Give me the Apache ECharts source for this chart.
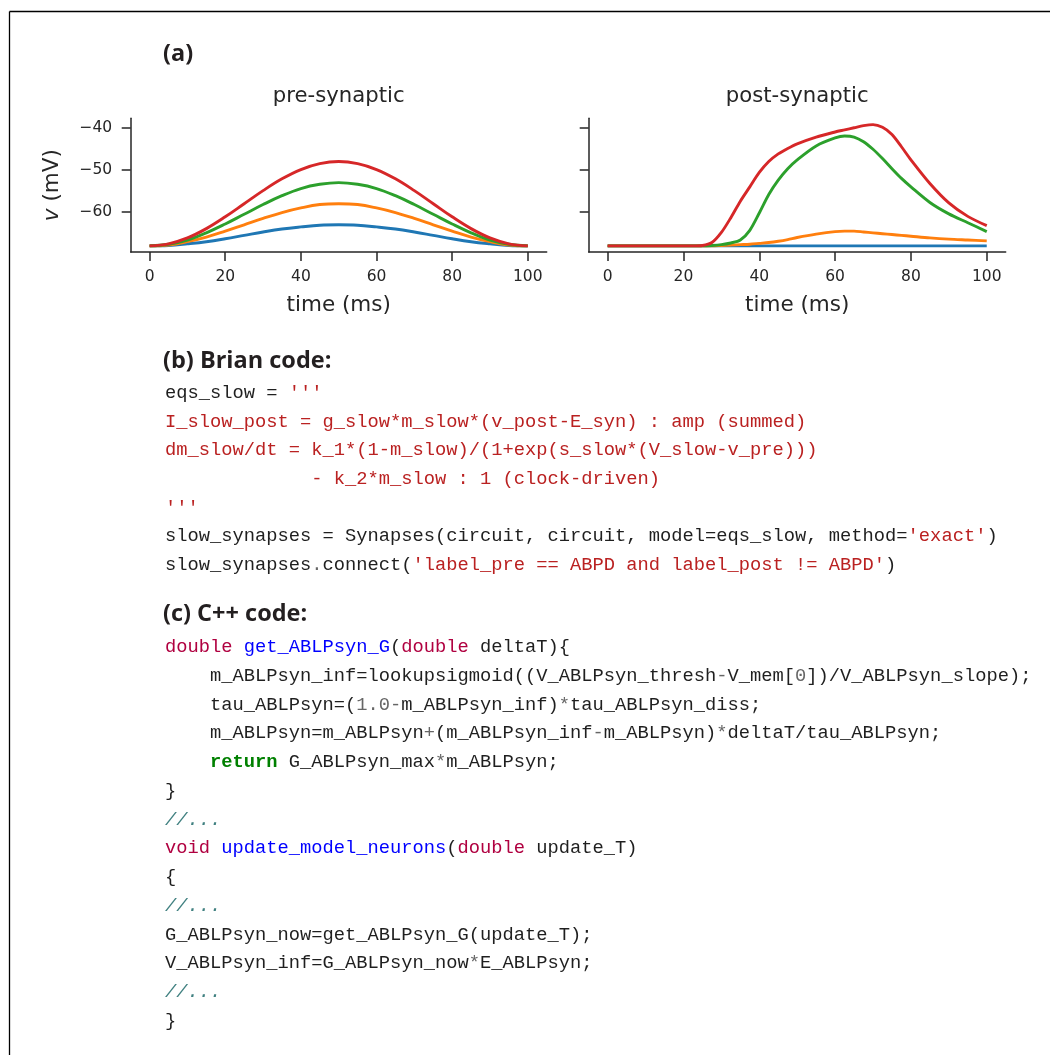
<!DOCTYPE html>
<html>
<head>
<meta charset="utf-8">
<script src="https://cdn.jsdelivr.net/npm/echarts@6/dist/echarts.min.js"></script>
<style>
  html, body { margin: 0; padding: 0; background: #ffffff; }
  #chart { width: 1050px; height: 1055px; }
</style>
</head>
<body>
<div id="chart"></div>
<script>
// ---- data: membrane potential traces (mV) ----
const preTime = [0, 5, 10, 15, 20, 25, 30, 35, 40, 45, 50, 55, 60, 65, 70, 75, 80, 85, 90, 95, 100];
const preBlue   = [-68, -67.9, -67.5, -67.0, -66.3, -65.5, -64.7, -64.0, -63.5, -63.1, -63, -63.1, -63.5, -64.0, -64.7, -65.5, -66.3, -67.0, -67.5, -67.9, -68];
const preOrange = [-68, -67.8, -67.0, -65.9, -64.5, -63, -61.5, -60.1, -59.0, -58.2, -58, -58.2, -59.0, -60.1, -61.5, -63, -64.5, -65.9, -67.0, -67.8, -68];
const preGreen  = [-68, -67.6, -66.6, -64.9, -62.8, -60.5, -58.2, -56.1, -54.4, -53.4, -53, -53.4, -54.4, -56.1, -58.2, -60.5, -62.8, -64.9, -66.6, -67.6, -68];
const preRed    = [-68, -67.5, -66.1, -63.9, -61.1, -58, -54.9, -52.1, -49.9, -48.5, -48, -48.5, -49.9, -52.1, -54.9, -58, -61.1, -63.9, -66.1, -67.5, -68];

const postTime   = [0, 5, 10, 15, 20, 22.5, 25, 27.5, 30, 32.5, 35, 37.5, 40, 42.5, 45, 47.5, 50, 55, 60, 62.5, 65, 67.5, 70, 72.5, 75, 77.5, 80, 85, 90, 95, 100];
const postBlue   = [-68, -68, -68, -68, -68, -68, -68, -68, -68, -68, -68, -68, -68, -68, -68, -68, -68, -68, -68, -68, -68, -68, -68, -68, -68, -68, -68, -68, -68, -68, -68];
const postOrange = [-68, -68, -68, -68, -68, -68, -68, -68, -67.9, -67.8, -67.7, -67.6, -67.4, -67.2, -66.9, -66.5, -66.0, -65.2, -64.6, -64.5, -64.5, -64.7, -64.9, -65.1, -65.3, -65.5, -65.7, -66.1, -66.4, -66.6, -66.8];
const postGreen  = [-68, -68, -68, -68, -68, -68, -68, -67.9, -67.7, -67.3, -66.6, -64.3, -60.2, -55.8, -52.4, -49.7, -47.6, -44.3, -42.4, -41.95, -42.2, -43.3, -45.1, -47.3, -49.7, -52.0, -54.0, -57.7, -60.4, -62.5, -64.6];
const postRed    = [-68, -68, -68, -68, -68, -68, -67.9, -67.2, -64.8, -61.3, -57.4, -54.0, -50.6, -48.0, -46.2, -44.9, -43.8, -42.2, -41.0, -40.5, -40.0, -39.5, -39.25, -39.9, -41.6, -44.5, -47.6, -53.2, -57.8, -61.0, -63.2];

const timeTicks = [0, 20, 40, 60, 80, 100];
const voltTicks = [-60, -50, -40];
const traceColors = ['#1f77b4', '#ff7f0e', '#2ca02c', '#d62728'];
const panelTitles = ['pre-synaptic', 'post-synaptic'];
const panelHeadings = ['(a)', '(b) Brian code:', '(c) C++ code:'];

// ---- code listings, as [token kind, text] pairs per line ----
const brianCode = [
  [['t', 'eqs_slow = '], ['s', "'''"]],
  [['s', 'I_slow_post = g_slow*m_slow*(v_post-E_syn) : amp (summed)']],
  [['s', 'dm_slow/dt = k_1*(1-m_slow)/(1+exp(s_slow*(V_slow-v_pre)))']],
  [['s', '             - k_2*m_slow : 1 (clock-driven)']],
  [['s', "'''"]],
  [['t', 'slow_synapses = Synapses(circuit, circuit, model=eqs_slow, method='], ['s', "'exact'"], ['t', ')']],
  [['t', 'slow_synapses'], ['o', '.'], ['t', 'connect('], ['s', "'label_pre == ABPD and label_post != ABPD'"], ['t', ')']]
];
const cppCode = [
  [['kt', 'double'], ['t', ' '], ['nf', 'get_ABLPsyn_G'], ['t', '('], ['kt', 'double'], ['t', ' deltaT){']],
  [['t', '    m_ABLPsyn_inf=lookupsigmoid((V_ABLPsyn_thresh'], ['o', '-'], ['t', 'V_mem['], ['m', '0'], ['t', '])/V_ABLPsyn_slope);']],
  [['t', '    tau_ABLPsyn=('], ['m', '1.0'], ['o', '-'], ['t', 'm_ABLPsyn_inf)'], ['o', '*'], ['t', 'tau_ABLPsyn_diss;']],
  [['t', '    m_ABLPsyn=m_ABLPsyn'], ['o', '+'], ['t', '(m_ABLPsyn_inf'], ['o', '-'], ['t', 'm_ABLPsyn)'], ['o', '*'], ['t', 'deltaT/tau_ABLPsyn;']],
  [['t', '    '], ['k', 'return'], ['t', ' G_ABLPsyn_max'], ['o', '*'], ['t', 'm_ABLPsyn;']],
  [['t', '}']],
  [['c', '//...']],
  [['kt', 'void'], ['t', ' '], ['nf', 'update_model_neurons'], ['t', '('], ['kt', 'double'], ['t', ' update_T)']],
  [['t', '{']],
  [['c', '//...']],
  [['t', 'G_ABLPsyn_now=get_ABLPsyn_G(update_T);']],
  [['t', 'V_ABLPsyn_inf=G_ABLPsyn_now'], ['o', '*'], ['t', 'E_ABLPsyn;']],
  [['c', '//...']],
  [['t', '}']]
];

// ---- styling ----
const INK = '#262626';
const SANS = '"DejaVu Sans", sans-serif';
const MONO = '"Liberation Mono", monospace';
const HEAD = '"Open Sans", sans-serif';
const CODE_SIZE = 18.75;

const tokenStyles = {
  o:  { fill: '#666666' },
  s:  { fill: '#ba2121' },
  kt: { fill: '#b00040' },
  nf: { fill: '#0000ff' },
  k:  { fill: '#008000', fontWeight: 'bold' },
  m:  { fill: '#666666' },
  c:  { fill: '#408080', fontStyle: 'italic' }
};
const rich = {};
Object.keys(tokenStyles).forEach(function (key) {
  rich[key] = Object.assign({ fontFamily: MONO, fontSize: CODE_SIZE }, tokenStyles[key]);
});

function richLine(tokens) {
  return tokens.map(function (tk) {
    return tk[0] === 't' ? tk[1] : '{' + tk[0] + '|' + tk[1] + '}';
  }).join('');
}

function pairs(times, vals) {
  return times.map(function (t, i) { return [t, vals[i]]; });
}

const grids = [
  { left: 130.7, top: 118.3, width: 416, height: 133.7 },
  { left: 588.7, top: 118.3, width: 417, height: 133.7 }
];

function xAxisFor(i) {
  return {
    type: 'value', gridIndex: i, min: -5, max: 105,
    name: 'time (ms)', nameLocation: 'middle', nameGap: 42,
    nameTextStyle: { fontFamily: SANS, fontSize: 21.5, color: INK },
    axisLine: { show: true, onZero: false, lineStyle: { color: INK, width: 1.5 } },
    axisTick: { show: true, length: 9, customValues: timeTicks, lineStyle: { color: INK, width: 1.5 } },
    axisLabel: { show: true, customValues: timeTicks, margin: 17, fontFamily: SANS, fontSize: 15.5, color: INK },
    splitLine: { show: false }
  };
}

function yAxisFor(i) {
  const ax = {
    type: 'value', gridIndex: i, min: -69.44, max: -37.76,
    axisLine: { show: true, onZero: false, lineStyle: { color: INK, width: 1.5 } },
    axisTick: { show: true, length: 9, customValues: voltTicks, lineStyle: { color: INK, width: 1.5 } },
    axisLabel: {
      show: i === 0, customValues: voltTicks, margin: 18.5,
      fontFamily: SANS, fontSize: 15.5, color: INK,
      formatter: function (v) { return String(v).replace('-', '\u2212'); }
    },
    splitLine: { show: false }
  };
  if (i === 0) {
    ax.name = '{i|v} (mV)';
    ax.nameLocation = 'middle';
    ax.nameRotate = 90;
    ax.nameGap = 67;
    ax.nameTextStyle = {
      fontFamily: SANS, fontSize: 21.5, color: INK,
      rich: { i: { fontFamily: SANS, fontSize: 21.5, color: INK, fontStyle: 'italic' } }
    };
  }
  return ax;
}

function trace(panel, times, vals, color, smooth) {
  return {
    type: 'line', xAxisIndex: panel, yAxisIndex: panel,
    data: pairs(times, vals), showSymbol: false, smooth: smooth,
    lineStyle: { color: color, width: 2.9 }, silent: true
  };
}

const series = [
  trace(0, preTime, preBlue, traceColors[0], 0.4),
  trace(0, preTime, preOrange, traceColors[1], 0.4),
  trace(0, preTime, preGreen, traceColors[2], 0.4),
  trace(0, preTime, preRed, traceColors[3], 0.4),
  trace(1, postTime, postBlue, traceColors[0], 0.3),
  trace(1, postTime, postOrange, traceColors[1], 0.3),
  trace(1, postTime, postGreen, traceColors[2], 0.3),
  trace(1, postTime, postRed, traceColors[3], 0.3)
];

// ---- text and frame drawn as graphic elements ----
const graphic = [
  { type: 'line', shape: { x1: 9.5, y1: 11.5, x2: 1050, y2: 11.5 }, style: { stroke: '#000', lineWidth: 1.3 } },
  { type: 'line', shape: { x1: 9.5, y1: 11.5, x2: 9.5, y2: 1055 }, style: { stroke: '#000', lineWidth: 1.3 } }
];

const headingPos = [[163, 54], [163, 361], [163, 614]];
panelHeadings.forEach(function (txt, i) {
  graphic.push({
    type: 'text', x: headingPos[i][0], y: headingPos[i][1],
    style: { text: txt, fontFamily: HEAD, fontWeight: 'bold', fontSize: 23.5, fill: '#231f20', align: 'left', verticalAlign: 'middle' }
  });
});

panelTitles.forEach(function (txt, i) {
  graphic.push({
    type: 'text', x: grids[i].left + grids[i].width / 2, y: 96,
    style: { text: txt, fontFamily: SANS, fontSize: 21.2, fill: INK, align: 'center', verticalAlign: 'middle' }
  });
});

function pushCode(lines, x0, y0, step) {
  lines.forEach(function (tokens, i) {
    graphic.push({
      type: 'text', x: x0, y: y0 + i * step,
      style: {
        text: richLine(tokens), rich: rich,
        fontFamily: MONO, fontSize: CODE_SIZE, fill: '#1f1f1f',
        align: 'left', verticalAlign: 'middle'
      }
    });
  });
}
pushCode(brianCode, 165, 393, 28.67);
pushCode(cppCode, 165, 647, 28.77);

const chart = echarts.init(document.getElementById('chart'), null, { renderer: 'canvas' });
chart.setOption({
  animation: false,
  backgroundColor: '#ffffff',
  grid: grids,
  xAxis: [xAxisFor(0), xAxisFor(1)],
  yAxis: [yAxisFor(0), yAxisFor(1)],
  series: series,
  graphic: graphic
});
</script>
</body>
</html>
